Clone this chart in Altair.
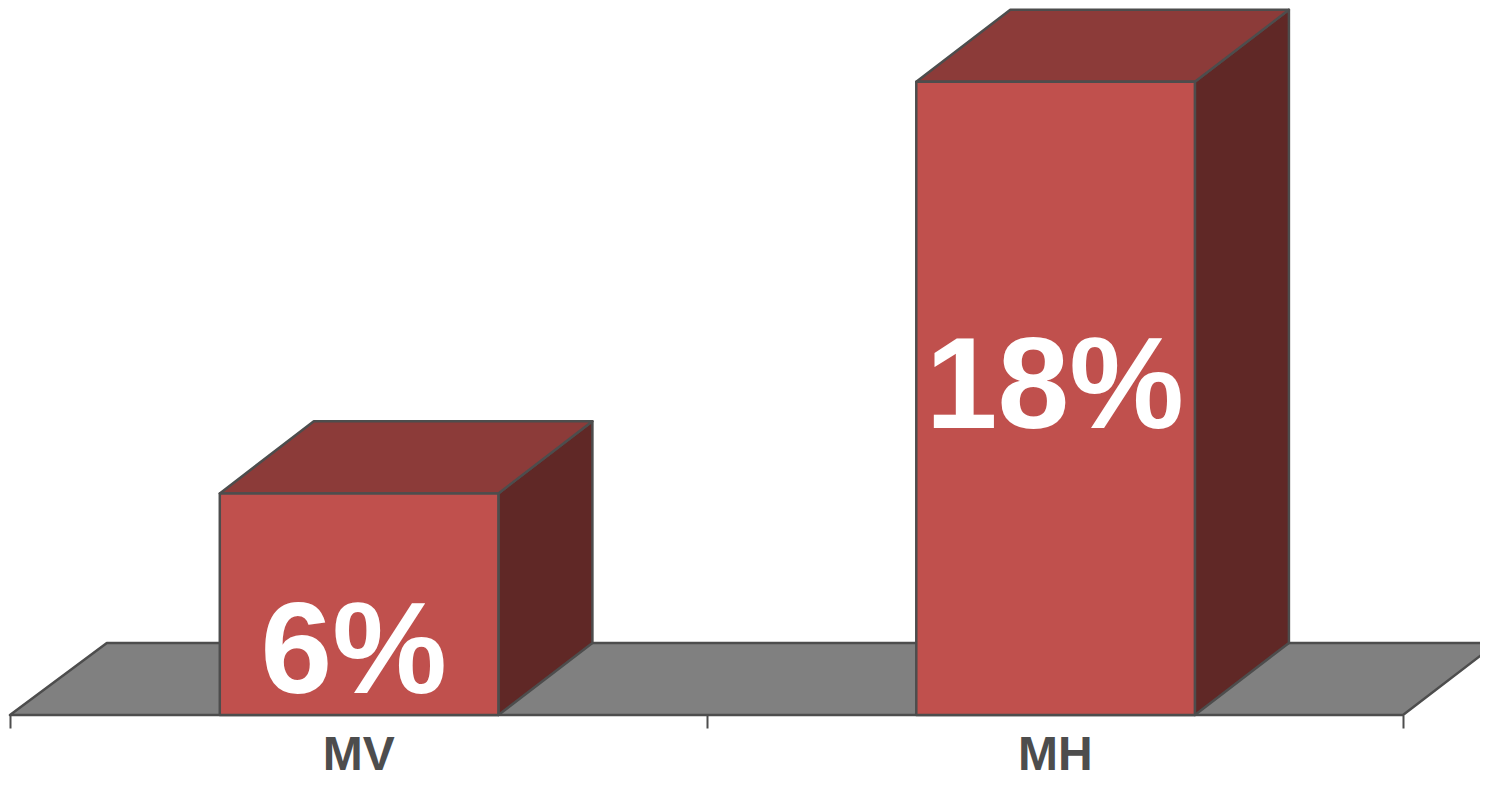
import altair as alt
import pandas as pd

categories = ["MV", "MH"]
bar_values = [6.3, 18.0]
bar_labels = ["6%", "18%"]
label_x = [0.4935, 1.5]
label_y = [0.625, 8.16]
bar_left = [0.3012, 1.3012]
bar_width = 0.4
depth_x = 0.135
floor_depth_left = 0.139
depth_y = 2.05
axis_extent = [0, 2]

OUTLINE = "#4d4d4d"
FRONT = "#c0504d"
TOP = "#8c3b39"
SIDE = "#602826"
FLOOR = "#808080"
LINE = dict(stroke=OUTLINE, strokeWidth=2.5, strokeJoin="round")

x_scale = alt.Scale(domain=axis_extent, range=[2, 1395], zero=False, nice=False)
y_scale = alt.Scale(domain=[0, 20.1], range=[707, 0], zero=False, nice=False)

X = lambda f: alt.X(f, type="quantitative", scale=x_scale, axis=None)
Y = lambda f: alt.Y(f, type="quantitative", scale=y_scale, axis=None)

floor_df = pd.DataFrame({
    "y": [0, depth_y],
    "x": [axis_extent[0], axis_extent[0] + floor_depth_left],
    "x2": [axis_extent[1], axis_extent[1] + depth_x],
})
floor = alt.Chart(floor_df).mark_area(
    orient="horizontal", color=FLOOR, **LINE
).encode(y=Y("y"), x=X("x"), x2="x2")

layers = [floor]
for i, cat in enumerate(categories):
    l, r, v = bar_left[i], bar_left[i] + bar_width, bar_values[i]
    side_df = pd.DataFrame({
        "x": [r, r + depth_x], "y": [0, depth_y], "y2": [v, v + depth_y]
    })
    top_df = pd.DataFrame({
        "y": [v, v + depth_y], "x": [l, l + depth_x], "x2": [r, r + depth_x]
    })
    front_df = pd.DataFrame({"x": [l], "x2": [r], "y": [0], "y2": [v]})
    layers.append(alt.Chart(side_df).mark_area(
        orient="vertical", color=SIDE, **LINE
    ).encode(x=X("x"), y=Y("y"), y2="y2"))
    layers.append(alt.Chart(top_df).mark_area(
        orient="horizontal", color=TOP, **LINE
    ).encode(y=Y("y"), x=X("x"), x2="x2"))
    layers.append(alt.Chart(front_df).mark_rect(
        color=FRONT, **LINE
    ).encode(x=X("x"), x2="x2", y=Y("y"), y2="y2"))

label_df = pd.DataFrame({"x": label_x, "y": label_y, "t": bar_labels})
labels = alt.Chart(label_df).mark_text(
    font="Liberation Sans", fontWeight="bold", fontSize=129,
    color="white", align="center", baseline="alphabetic",
).encode(x=X("x"), y=Y("y"), text="t:N")
layers.append(labels)

quant = alt.layer(*layers)

axis_df = pd.DataFrame({"cat": categories, "v": [0, 0]})
axis_layer = alt.Chart(axis_df).mark_bar(opacity=0).encode(
    x=alt.X("cat:N", sort=categories, title=None,
            scale=alt.Scale(domain=categories, range=[2, 1395], paddingInner=0, paddingOuter=0),
            axis=alt.Axis(
                tickBand="extent", labelAngle=0, domain=False, grid=False,
                tickColor=OUTLINE, tickWidth=2, tickSize=13,
                labelColor=OUTLINE, labelFont="Liberation Sans", labelFontWeight="bold",
                labelFontSize=48, labelPadding=3,
            )),
    y=alt.Y("v:Q", scale=y_scale, axis=None),
)

chart = alt.layer(quant, axis_layer).resolve_scale(x="independent").properties(
    width=1472, height=707,
    padding={"left": 0, "right": 0, "top": 0, "bottom": 66},
    autosize=alt.AutoSizeParams(type="none"),
).configure_view(stroke=None)

chart.save("out.html", embed_options={"renderer": "svg", "actions": False})
